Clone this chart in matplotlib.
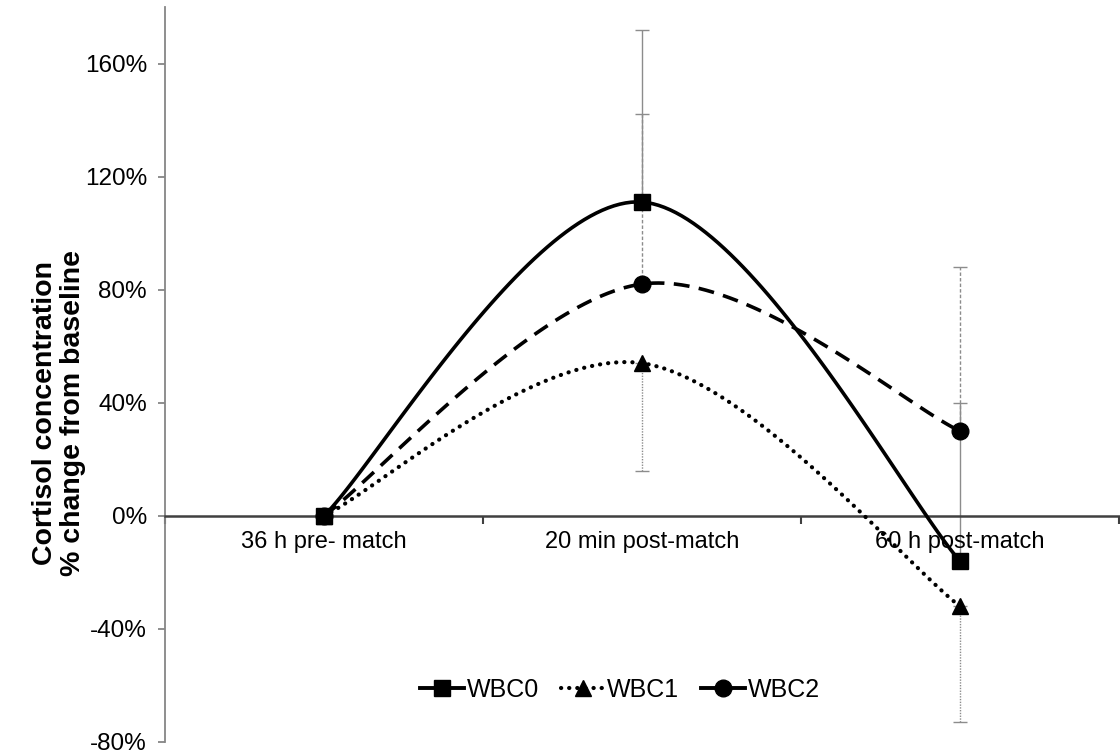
import numpy as np
import matplotlib
matplotlib.use("Agg")
import matplotlib.pyplot as plt
from matplotlib.lines import Line2D

plt.rcParams['font.family'] = ['Liberation Sans', 'DejaVu Sans']

categories = ["36 h pre- match", "20 min post-match", "60 h post-match"]
wbc0 = [0, 111, -16]
wbc1 = [0, 54, -32]
wbc2 = [0, 82, 30]
# error bars (only for post-match points)
wbc0_err_up = [61, 56]
wbc1_err_down = [38, 41]
wbc2_err_up = [60, 58]
yticks = [-80, -40, 0, 40, 80, 120, 160]


def excel_smooth(xs, ys, n=60):
    """Bezier smoothing like Excel's smoothed line (Catmull-Rom control points)."""
    pts = np.column_stack([xs, ys]).astype(float)
    out = []
    m = len(pts)
    for i in range(m - 1):
        p0 = pts[i - 1] if i > 0 else pts[i]
        p1 = pts[i]
        p2 = pts[i + 1]
        p3 = pts[i + 2] if i + 2 < m else pts[i + 1]
        c1 = p1 + (p2 - p0) / 6.0
        c2 = p2 - (p3 - p1) / 6.0
        t = np.linspace(0, 1, n)[:, None]
        seg = ((1 - t) ** 3) * p1 + 3 * ((1 - t) ** 2) * t * c1 + 3 * (1 - t) * t ** 2 * c2 + t ** 3 * p2
        out.append(seg if i == 0 else seg[1:])
    res = np.vstack(out)
    return res[:, 0], res[:, 1]


fig = plt.figure(figsize=(11.2, 7.56), dpi=100)
ax = fig.add_axes([165 / 1120, 14 / 756, 954 / 1120, 735 / 756])

x = np.arange(len(categories))
gray = '#8c8c8c'

# error bars
eb0 = ax.errorbar(x[1:], wbc0[1:], yerr=[[0, 0], wbc0_err_up], fmt='none',
                  ecolor=gray, elinewidth=1.0, capsize=5, capthick=1.0, zorder=1)
eb1 = ax.errorbar(x[1:], wbc1[1:], yerr=[wbc1_err_down, [0, 0]], fmt='none',
                  ecolor=gray, elinewidth=1.0, capsize=5, capthick=1.0, zorder=1)
eb1[2][0].set_linestyle((0, (1, 1)))
eb2 = ax.errorbar(x[1:], wbc2[1:], yerr=[[0, 0], wbc2_err_up], fmt='none',
                  ecolor=gray, elinewidth=1.0, capsize=5, capthick=1.0, zorder=1)
eb2[2][0].set_linestyle((0, (2.5, 1.5)))

# smoothed lines
sx, sy = excel_smooth(x, wbc0)
ax.plot(sx, sy, color='black', lw=2.6, zorder=3)
sx, sy = excel_smooth(x, wbc1)
ax.plot(sx, sy, color='black', lw=3.0, linestyle=(0, (0.05, 1.9)),
        dash_capstyle='round', zorder=3)
sx, sy = excel_smooth(x, wbc2)
ax.plot(sx, sy, color='black', lw=2.6, linestyle=(0, (4.4, 2.6)), zorder=3)

# markers
ax.plot(x, wbc0, linestyle='none', marker='s', ms=11, color='black', zorder=4)
ax.plot(x, wbc1, linestyle='none', marker='^', ms=12, color='black', zorder=4)
ax.plot(x, wbc2, linestyle='none', marker='o', ms=12, color='black', zorder=4)

ax.set_xlim(-0.5, 2.5)
ax.set_ylim(-80, 180)

# spines
for s in ['top', 'right']:
    ax.spines[s].set_visible(False)
ax.spines['left'].set_color('#868686')
ax.spines['left'].set_linewidth(1.3)
ax.spines['bottom'].set_position(('data', 0))
ax.spines['bottom'].set_color('#404040')
ax.spines['bottom'].set_linewidth(1.8)

ax.set_yticks(yticks)
ax.set_yticklabels([f"{v}%" for v in yticks], fontsize=17.5)
ax.tick_params(axis='y', direction='out', length=5, width=1.3, color='#868686', pad=8)

ax.set_xticks(x)
ax.set_xticklabels(categories, fontsize=17)
ax.set_xticks([-0.5, 0.5, 1.5, 2.5], minor=True)
ax.tick_params(axis='x', which='major', length=0, pad=11)
ax.tick_params(axis='x', which='minor', direction='out', length=6, width=1.5, color='#404040')

fig.text(59 / 1120, 1 - 413 / 756, "Cortisol concentration\n% change from baseline",
         rotation=90, ha='center', va='center', fontsize=20.5, fontweight='bold',
         linespacing=1.06)

handles = [
    Line2D([], [], color='black', lw=2.8, marker='s', ms=12),
    Line2D([], [], color='black', lw=3.0, linestyle=(0, (0.05, 1.9)),
           dash_capstyle='round', marker='^', ms=12),
    Line2D([], [], color='black', lw=2.8, marker='o', ms=12),
]
ax.legend(handles, ['WBC0', 'WBC1', 'WBC2'], loc='center', bbox_to_anchor=(0.477, 0.0707),
          ncol=3, frameon=False, fontsize=18, handlelength=1.75, handletextpad=0.1,
          columnspacing=0.88)

fig.savefig('out.png', dpi=100)
